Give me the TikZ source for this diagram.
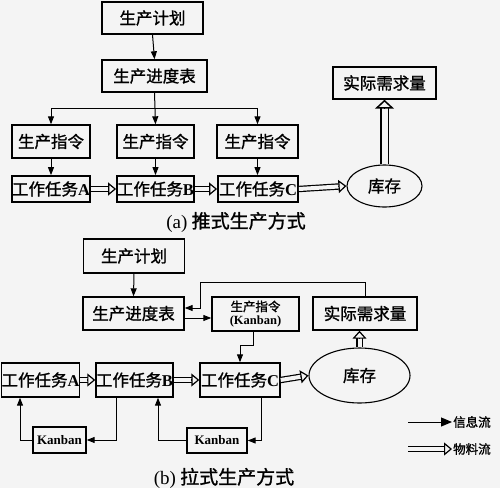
\documentclass[tikz,border=0pt]{standalone}
\usepackage{fontspec}
\setmainfont{Liberation Serif}
\newfontfamily\cjk{Noto Sans CJK SC}[FakeBold=1.2]
\usetikzlibrary{arrows.meta,shapes.geometric,calc}
\colorlet{bg}{gray!9}
% material-flow arrow: double shaft + open triangular head
\newcommand\matflow[4]{% #1 gap, #2 head width, #3 from, #4 to
  \draw[double=bg,double distance=#1,line width=1.2pt,shorten >=7pt] (#3) -- (#4);
  \draw[line width=1.2pt,-{Triangle[open,length=8pt,width=#2,fill=bg]}] ($(#4)!8pt!(#3)$) -- (#4);}
\begin{document}
\begin{tikzpicture}[x=1pt,y=-1pt,
  box/.style={draw,line width=1.4pt,inner sep=0pt,minimum height=#1,font=\cjk\fontsize{16.5}{17}\selectfont},
  box/.default=32pt,
  taskbox/.style={box=26pt,line width=1.8pt},
  kanbox/.style={draw,line width=1.4pt,inner sep=0pt,font=\bfseries\fontsize{13}{14}\selectfont},
  store/.style={draw,ellipse,line width=1.1pt,inner sep=0pt,font=\cjk\fontsize{16.5}{17}\selectfont},
  info/.style={line width=1pt,-{Triangle[length=8pt,width=6pt]}},
  captext/.style={font=\cjk\fontsize{19}{20}\selectfont},
  legtxt/.style={font=\cjk\fontsize{12.5}{13}\selectfont,anchor=west,inner sep=1pt}
]
\useasboundingbox (0,0) rectangle (500,496);
\fill[bg] (0,0) rectangle (500,488);
\fill[white] (0,488) rectangle (500,496);

% ---------- (a) push ----------
\node[box,minimum width=101pt] (pa1) at (152.5,18) {生产计划};
\node[box,minimum width=105pt] (pa2) at (154.5,76) {生产进度表};
\node[box=33pt,minimum width=78pt] (ia1) at (51,141.5) {生产指令};
\node[box=33pt,minimum width=77pt] (ia2) at (155.5,141.5) {生产指令};
\node[box=33pt,minimum width=81pt] (ia3) at (257.5,141.5) {生产指令};
\node[taskbox,minimum width=78pt] (ta) at (51,189) {工作任务\textrm{\bfseries A}};
\node[taskbox,minimum width=77pt] (tb) at (155.5,189) {工作任务\textrm{\bfseries B}};
\node[taskbox,minimum width=80pt] (tc) at (258,189) {工作任务\textrm{\bfseries C}};
\node[store,minimum width=75pt,minimum height=42pt] (ka) at (384.5,186) {库存};
\node[box,minimum width=103pt] (da) at (384.5,83) {实际需求量};
\node[captext] (capa) at (236,222) {\textrm{(a)} 推式生产方式};

\draw[info] (pa1.south) -- (pa2.north);
\coordinate (sa) at (154,108);
\draw[info] (pa2.south) -- (ia2.north);
\draw[line width=1pt] (ia1.north|-sa) -- (ia3.north|-sa);
\draw[info] (ia1.north|-sa) -- (ia1.north);
\draw[info] (ia3.north|-sa) -- (ia3.north);
\draw[info] (ia1.south) -- (ta.north);
\draw[info] (ia2.south) -- (tb.north);
\draw[info] (ia3.south) -- (tc.north-|ia3.south);
\matflow{4pt}{13pt}{ta.east}{tb.west}
\matflow{4pt}{13pt}{tb.east}{tc.west}
\matflow{4pt}{13pt}{tc.east}{ka.west}
\draw[double=bg,double distance=6pt,line width=1.8pt,shorten >=8pt] (ka.north) -- (da.south);
\draw[line width=1.5pt,-{Triangle[open,length=9pt,width=19pt,fill=bg]}] ($(da.south)!9pt!(ka.north)$) -- (da.south);

% ---------- (b) pull ----------
\node[box=34pt,minimum width=101pt] (pb1) at (134,256) {生产计划};
\node[box=33pt,minimum width=101pt] (pb2) at (133.5,313.5) {生产进度表};
\node[draw,line width=1.4pt,minimum width=87pt,minimum height=34pt,inner sep=0pt,align=center,
      font=\cjk\fontsize{12.5}{13.5}\selectfont] (kb) at (255.5,314) {生产指令\\\textrm{\bfseries(Kanban)}};
\node[box=33pt,minimum width=104pt] (db) at (365,313.5) {实际需求量};
\node[box=34pt,minimum width=77pt] (tA) at (40.5,380) {工作任务\textrm{\bfseries A}};
\node[box=34pt,minimum width=77pt] (tB) at (134.5,380) {工作任务\textrm{\bfseries B}};
\node[box=34pt,minimum width=80pt] (tC) at (240,380) {工作任务\textrm{\bfseries C}};
\node[store,minimum width=101pt,minimum height=55pt] (kbe) at (359.5,375.5) {库存};
\node[kanbox,minimum width=53pt,minimum height=26pt] (kn1) at (59.5,440) {Kanban};
\node[kanbox,minimum width=60pt,minimum height=25pt] (kn2) at (217,440.5) {Kanban};
\node[captext] (capb) at (224,478) {\textrm{(b)} 拉式生产方式};

\draw[info] (pb1.south) -- (pb2.north);
\coordinate (fb1) at (200,282);
\draw[info] (db.north) |- (fb1) |- ([yshift=5.5pt]pb2.east);
\draw[info] ([yshift=-4.5pt]pb2.east) -- ([yshift=-4.5pt]pb2.east-|kb.west);
\coordinate (kbb) at (253,345);
\draw[info] (kb.south-|kbb) -- (kbb) -| (tC.north);
\draw[info] ([xshift=-18.5pt]tB.south) |- (kn1.east);
\draw[info] (kn1.west) -| ([xshift=-20.5pt]tA.south);
\draw[info] ([xshift=21pt]tC.south) |- (kn2.east);
\draw[info] (kn2.west) -| ([xshift=23.5pt]tB.south);
\matflow{4pt}{13pt}{tA.east}{tB.west}
\matflow{4pt}{13pt}{tB.east}{tC.west}
\matflow{4pt}{13pt}{tC.east}{kbe.west}
\coordinate (dbb) at (kbe.north|-db.south);
\matflow{4pt}{14pt}{kbe.north}{dbb}

% ---------- legend ----------
\node[legtxt] (lg1) at (452,422) {信息流};
\node[legtxt] (lg2) at (452,449) {物料流};
\coordinate (l1) at (408,422);
\coordinate (l2) at (408,449);
\draw[line width=1pt,-{Triangle[length=11pt,width=9pt]}] (l1) -- (lg1.west);
\matflow{4pt}{13pt}{l2}{lg2.west}
\end{tikzpicture}
\end{document}
